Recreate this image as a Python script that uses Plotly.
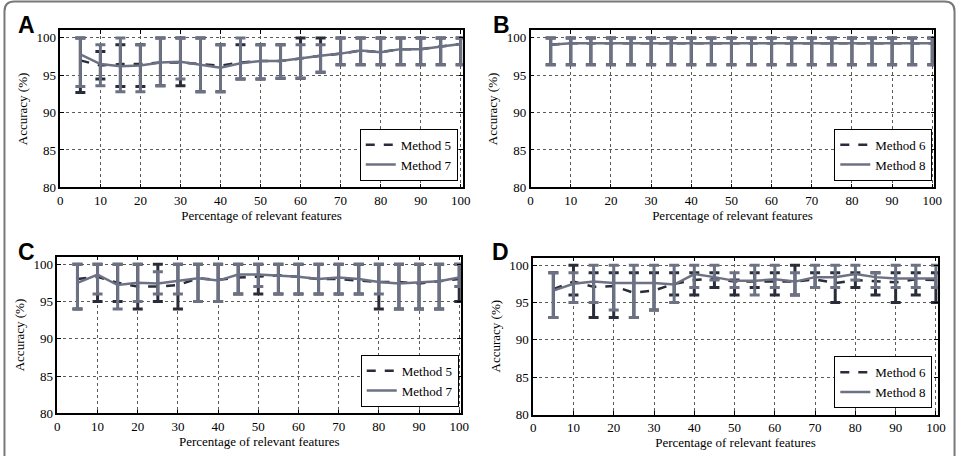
import plotly.graph_objects as go

W, H = 966, 456
x_vals = [5, 10, 15, 20, 25, 30, 35, 40, 45, 50, 55, 60, 65, 70, 75, 80, 85, 90, 95, 100]

# Panel A
a_m5_mean = [97.0, 96.3, 96.5, 96.5, 96.7, 96.7, 96.5, 96.3, 96.7, 96.9, 96.9, 97.3, 97.6, 97.9, 98.3, 98.1, 98.5, 98.5, 98.9, 99.2]
a_m5_hi   = [100, 98.2, 99.1, 99.1, 100, 100, 100, 99.1, 99.1, 99.1, 99.1, 100, 100, 100, 100, 100, 100, 100, 100, 100]
a_m5_lo   = [92.7, 94.5, 93.5, 93.5, 93.6, 93.6, 92.8, 92.8, 94.5, 94.5, 94.6, 94.6, 95.4, 96.4, 96.4, 96.4, 96.4, 96.4, 96.4, 96.4]
a_m7_mean = [97.8, 96.5, 96.2, 96.3, 96.7, 96.8, 96.4, 96.0, 96.6, 96.9, 96.9, 97.3, 97.6, 97.9, 98.3, 98.1, 98.5, 98.5, 98.9, 99.2]
a_m7_hi   = [100, 99.1, 100, 99.1, 100, 100, 100, 99.1, 100, 99.1, 99.1, 99.1, 99.1, 100, 100, 100, 100, 100, 100, 100]
a_m7_lo   = [93.5, 93.6, 92.8, 92.8, 93.6, 94.5, 92.8, 92.8, 94.5, 94.5, 94.6, 94.6, 95.4, 96.4, 96.4, 96.4, 96.4, 96.4, 96.4, 96.4]

# Panel B
b_m6_mean = [99.1] + [99.3] * 19
b_m6_hi   = [100] * 20
b_m6_lo   = [96.4] * 20
b_m8_mean = [99.1] + [99.3] * 19
b_m8_hi   = [100] * 20
b_m8_lo   = [96.4] * 20

# Panel C
c_m5_mean = [98.0, 98.3, 97.5, 97.0, 97.0, 97.2, 98.1, 97.9, 98.2, 98.4, 98.5, 98.3, 98.0, 98.0, 97.8, 97.6, 97.6, 97.4, 97.7, 98.0]
c_m5_hi   = [100] * 20
c_m5_lo   = [94, 95, 95, 94, 95, 94, 95, 95, 96, 96, 96, 96, 96, 96, 96, 94, 94, 94, 94, 95]
c_m7_mean = [97.5, 98.6, 97.2, 97.5, 97.4, 97.7, 98.1, 97.8, 98.6, 98.6, 98.5, 98.3, 98.0, 98.2, 98.0, 97.6, 97.4, 97.5, 97.7, 98.2]
c_m7_hi   = [100, 100, 100, 100, 99, 100, 100, 100, 100, 100, 100, 100, 100, 100, 100, 100, 100, 100, 100, 100]
c_m7_lo   = [94, 96, 94, 95, 96, 96, 95, 95, 96, 97, 96, 96, 96, 96, 96, 96, 94, 94, 94, 97]

# Panel D
d_m6_mean = [96.8, 97.8, 97.1, 97.2, 96.3, 96.6, 97.5, 98.0, 98.2, 97.8, 97.8, 97.8, 97.8, 98.1, 97.6, 98.0, 97.8, 97.7, 98.1, 98.0]
d_m6_hi   = [99, 100, 99, 99, 99, 99, 99, 99, 99, 98, 99, 99, 100, 99, 99, 99, 99, 99, 99, 99]
d_m6_lo   = [93, 96, 93, 93, 93, 94, 96, 96, 97, 96, 97, 96, 96, 97, 95, 97, 96, 95, 96, 95]
d_m8_mean = [96.6, 97.5, 97.8, 97.6, 97.6, 97.6, 97.4, 98.8, 98.4, 97.9, 97.9, 98.1, 97.8, 98.4, 98.4, 98.8, 98.4, 98.2, 98.2, 98.2]
d_m8_hi   = [99, 99, 100, 100, 100, 100, 100, 100, 100, 99, 100, 100, 99, 100, 100, 100, 99, 100, 100, 100]
d_m8_lo   = [93, 95, 95, 94, 93, 94, 95, 97, 98, 97, 96, 97, 96, 97, 97, 98, 97, 97, 97, 97]

panels = [
    ("A", ("Method 5", a_m5_mean, a_m5_hi, a_m5_lo), ("Method 7", a_m7_mean, a_m7_hi, a_m7_lo)),
    ("B", ("Method 6", b_m6_mean, b_m6_hi, b_m6_lo), ("Method 8", b_m8_mean, b_m8_hi, b_m8_lo)),
    ("C", ("Method 5", c_m5_mean, c_m5_hi, c_m5_lo), ("Method 7", c_m7_mean, c_m7_hi, c_m7_lo)),
    ("D", ("Method 6", d_m6_mean, d_m6_hi, d_m6_lo), ("Method 8", d_m8_mean, d_m8_hi, d_m8_lo)),
]

x_ticks = [0, 10, 20, 30, 40, 50, 60, 70, 80, 90, 100]
y_ticks = [80, 85, 90, 95, 100]

# pixel boxes (left, right, top, bottom)
boxes = [(58, 465, 31, 190.7), (533.7, 942, 31, 190.7), (55, 463.5, 261.3, 420.7), (536.3, 945.7, 262.3, 422)]
leg_pos = [(460, 184), (940, 184), (461, 414), (940, 415.5)]
lab_pos = [(24, 25), (504, 25), (24, 256), (503, 257)]

DARK = "rgb(42,44,58)"
GRAY = "rgb(108,113,132)"
SERIF = "Liberation Serif"

fig = go.Figure()
layout = dict(width=W, height=H, margin=dict(l=0, r=0, t=0, b=0),
              paper_bgcolor="white", plot_bgcolor="white", showlegend=True)
annotations = []
shapes = []

for i, (lab, s1, s2) in enumerate(panels):
    n = "" if i == 0 else str(i + 1)
    xa, ya = "x" + n, "y" + n
    leg = "legend" + n
    for (name, mean, hi, lo), color, dash in ((s1, DARK, "dash"), (s2, GRAY, "solid")):
        fig.add_trace(go.Scatter(
            x=x_vals, y=mean, name=name, mode="lines",
            line=dict(color=color, width=2.5, dash=dash),
            error_y=dict(type="data", symmetric=False,
                         array=[h - m for h, m in zip(hi, mean)],
                         arrayminus=[m - l for m, l in zip(mean, lo)],
                         color=color, thickness=3, width=5),
            xaxis=xa, yaxis=ya, legend=leg))
    l, r, t, b = boxes[i]
    axcommon = dict(showline=True, linecolor="black", linewidth=1.5, mirror="allticks",
                    ticks="inside", ticklen=4, tickcolor="black",
                    showgrid=True, gridcolor="rgb(90,90,90)", griddash="dot", gridwidth=1,
                    zeroline=False, tickfont=dict(family=SERIF, size=13, color="black"),
                    title_font=dict(family=SERIF, size=13, color="black"))
    layout["xaxis" + n] = dict(axcommon, domain=[l / W, r / W], range=[0, 100.5],
                               tickvals=x_ticks, anchor=ya,
                               title=dict(text="Percentage of relevant features", standoff=2))
    layout["yaxis" + n] = dict(axcommon, domain=[1 - b / H, 1 - t / H], range=[80, 101],
                               tickvals=y_ticks, anchor=xa,
                               title=dict(text="Accuracy (%)", standoff=6))
    lx, ly = leg_pos[i]
    layout[leg] = dict(x=lx / W, y=1 - ly / H, xanchor="right", yanchor="bottom",
                       bgcolor="white", bordercolor="black", borderwidth=1,
                       font=dict(family=SERIF, size=13, color="black"),
                       tracegroupgap=0, itemwidth=30)
    px_, py_ = lab_pos[i]
    annotations.append(dict(text="<b>" + lab + "</b>", x=px_ / W, y=1 - py_ / H,
                            xref="paper", yref="paper", showarrow=False,
                            xanchor="center", yanchor="middle",
                            font=dict(family="Liberation Sans", size=23, color="black")))

# outer rounded frame (open at bottom)
def P(x, y):
    return f"{x / W:.5f},{1 - y / H:.5f}"
rad = 10
x0, x1, y0, y1 = 1.5, 962.5, 1.5, 470
path = (f"M {P(x0, y1)} L {P(x0, y0 + rad)} Q {P(x0, y0)} {P(x0 + rad, y0)} "
        f"L {P(x1 - rad, y0)} Q {P(x1, y0)} {P(x1, y0 + rad)} L {P(x1, y1)}")
shapes.append(dict(type="path", path=path, xref="paper", yref="paper",
                   line=dict(color="rgb(120,120,120)", width=2)))

layout["annotations"] = annotations
layout["shapes"] = shapes
fig.update_layout(**layout)
fig.write_html("out.html")
